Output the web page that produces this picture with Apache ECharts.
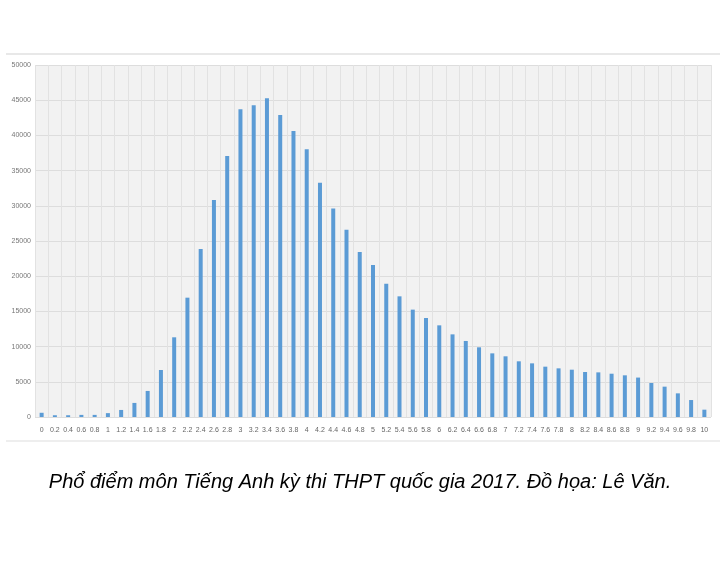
<!DOCTYPE html>
<html>
<head>
<meta charset="utf-8">
<script src="https://cdn.jsdelivr.net/npm/echarts@6/dist/echarts.min.js"></script>
<style>
  html, body { margin: 0; padding: 0; background: #ffffff; }
  #chart { width: 720px; height: 562px; }
</style>
</head>
<body>
<div id="chart"></div>
<script>
const categories = ['0','0.2','0.4','0.6','0.8','1','1.2','1.4','1.6','1.8','2','2.2','2.4','2.6','2.8','3','3.2','3.4','3.6','3.8','4','4.2','4.4','4.6','4.8','5','5.2','5.4','5.6','5.8','6','6.2','6.4','6.6','6.8','7','7.2','7.4','7.6','7.8','8','8.2','8.4','8.6','8.8','9','9.2','9.4','9.6','9.8','10'];
const counts = [600,250,250,300,300,550,1000,2000,3700,6680,11320,16950,23860,30820,37070,43700,44270,45270,42900,40630,38020,33290,29600,26610,23440,21590,18940,17140,15250,14060,13020,11740,10800,9900,9040,8620,7910,7620,7150,6910,6720,6390,6340,6150,5920,5600,4830,4310,3360,2410,1040];
const yTicks = [0,5000,10000,15000,20000,25000,30000,35000,40000,45000,50000];
const caption = 'Phổ điểm môn Tiếng Anh kỳ thi THPT quốc gia 2017. Đồ họa: Lê Văn.';

const chart = echarts.init(document.getElementById('chart'), null, { renderer: 'canvas' });
chart.setOption({
  animation: false,
  backgroundColor: '#ffffff',
  grid: {
    left: 35, right: 9, top: 65, bottom: 145,
    show: true, backgroundColor: '#f2f2f2', borderWidth: 0
  },
  xAxis: {
    type: 'category',
    data: categories,
    boundaryGap: true,
    axisLine: { show: false },
    axisTick: { show: false },
    axisLabel: { interval: 0, color: '#666', fontSize: 7, fontFamily: 'Liberation Sans Narrow, Liberation Sans, sans-serif', margin: 10 },
    splitLine: { show: true, interval: 0, lineStyle: { color: '#e2e2e2', width: 1 } }
  },
  yAxis: {
    type: 'value',
    min: yTicks[0],
    max: yTicks[yTicks.length - 1],
    interval: yTicks[1] - yTicks[0],
    axisLine: { show: false },
    axisTick: { show: false },
    axisLabel: { color: '#777', fontSize: 7, fontFamily: 'Liberation Sans Narrow, Liberation Sans, sans-serif', margin: 4, formatter: v => String(v) },
    splitLine: { show: true, lineStyle: { color: '#dddddd', width: 1 } }
  },
  series: [{
    type: 'bar',
    data: counts,
    barWidth: 4,
    itemStyle: { color: '#5b9bd5' }
  }],
  graphic: [
    { type: 'line', shape: { x1: 6, y1: 54, x2: 720, y2: 54 }, style: { stroke: '#e8e8e8', lineWidth: 2 } },
    { type: 'line', shape: { x1: 6, y1: 441, x2: 720, y2: 441 }, style: { stroke: '#eeeeee', lineWidth: 2 } },
    { type: 'text', left: 'center', top: 472, style: { text: caption, fill: '#000', fontSize: 20, fontStyle: 'italic', fontFamily: 'Liberation Sans, Arial, sans-serif' } }
  ]
});
</script>
</body>
</html>
